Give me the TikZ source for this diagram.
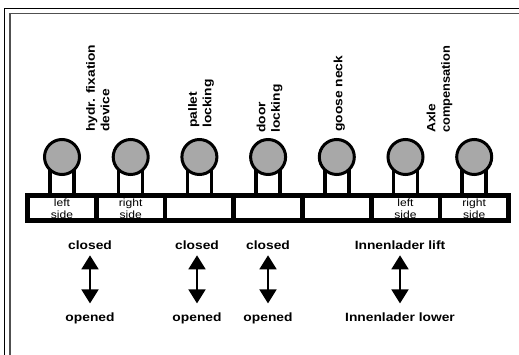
\documentclass[tikz,border=0pt]{standalone}
\usepackage{fontspec}
\newfontfamily\lab[FakeStretch=1.15]{Liberation Sans}
\usetikzlibrary{arrows.meta}
\definecolor{knob}{HTML}{A8A8A8}
\definecolor{framegray}{HTML}{505050}
\pgfdeclarelayer{bg}
\pgfsetlayers{bg,main}
\begin{document}
\begin{tikzpicture}[x=1pt,y=-1pt,
  knobstyle/.style={circle, draw=black, line width=3pt, fill=knob, minimum size=35pt, inner sep=0pt},
  cellbox/.style={rectangle, fill=white, minimum width=64pt, minimum height=20pt, inner sep=0pt, align=center, font=\lab\fontsize{10.5}{11.5}\selectfont},
  vlabel/.style={rotate=90, anchor=north west, inner sep=0pt, align=left, font=\lab\bfseries\fontsize{12}{14.5}\selectfont},
  state/.style={anchor=base, inner sep=0pt, font=\lab\bfseries\fontsize{12}{14}\selectfont},
  dblarrow/.style={{Triangle[width=17pt,length=14pt]}-{Triangle[width=17pt,length=14pt]}, line width=1.8pt, shorten <=5pt, shorten >=8.7pt},
  stemline/.style={line width=3.5pt},
  outerframe/.style={line width=1.4pt, draw=black},
  innerframe/.style={line width=1.6pt, draw=framegray}
]
\useasboundingbox (0,0) rectangle (519,355);
\clip (0,0) rectangle (519,355);
% frame
\draw[outerframe] (4.5,400) -- (4.5,8.5) -- (600,8.5);
\draw[innerframe] (10,400) -- (10,13.5) -- (600,13.5);
% bar
\fill[black] (24.5,193) rectangle (510.5,223);
\foreach \i/\t in {1/{left\\side},2/{right\\side},3/{},4/{},5/{},6/{left\\side},7/{right\\side}}{
  \pgfmathsetmacro{\cx}{62+68.7*(\i-1)}
  \node[cellbox] (cell\i) at (\cx,208.5) {\t};
  \node[knobstyle] (k\i) at (\cx,157) {};
  \begin{pgfonlayer}{bg}
    \draw[stemline] ([xshift=-12pt]k\i.center) -- ([xshift=-12pt]cell\i.north);
    \draw[stemline] ([xshift=12pt]k\i.center) -- ([xshift=12pt]cell\i.north);
  \end{pgfonlayer}
}
% rotated labels
\node[vlabel] (lab1) at (86,132) {hydr. fixation\\device};
\node[vlabel] (lab2) at (188,128) {pallet\\locking};
\node[vlabel] (lab3) at (256.5,133) {door\\locking};
\node[vlabel] (lab4) at (333.5,132) {goose neck};
\node[vlabel] (lab5) at (426.5,133) {Axle\\\scalebox{0.93}[1]{compensation}};
% states
\node[state] (cl1) at (90,250) {closed};
\node[state] (op1) at (90,321) {opened};
\node[state] (cl2) at (197,250) {closed};
\node[state] (op2) at (197,321) {opened};
\node[state] (cl3) at (268,250) {closed};
\node[state] (op3) at (268,321) {opened};
\node[state] (cl4) at (400,250) {Innenlader lift};
\node[state] (op4) at (400,321) {Innenlader lower};
\foreach \j in {1,2,3,4}{
  \draw[dblarrow] (cl\j.south) -- (op\j.north);
}
\end{tikzpicture}
\end{document}
